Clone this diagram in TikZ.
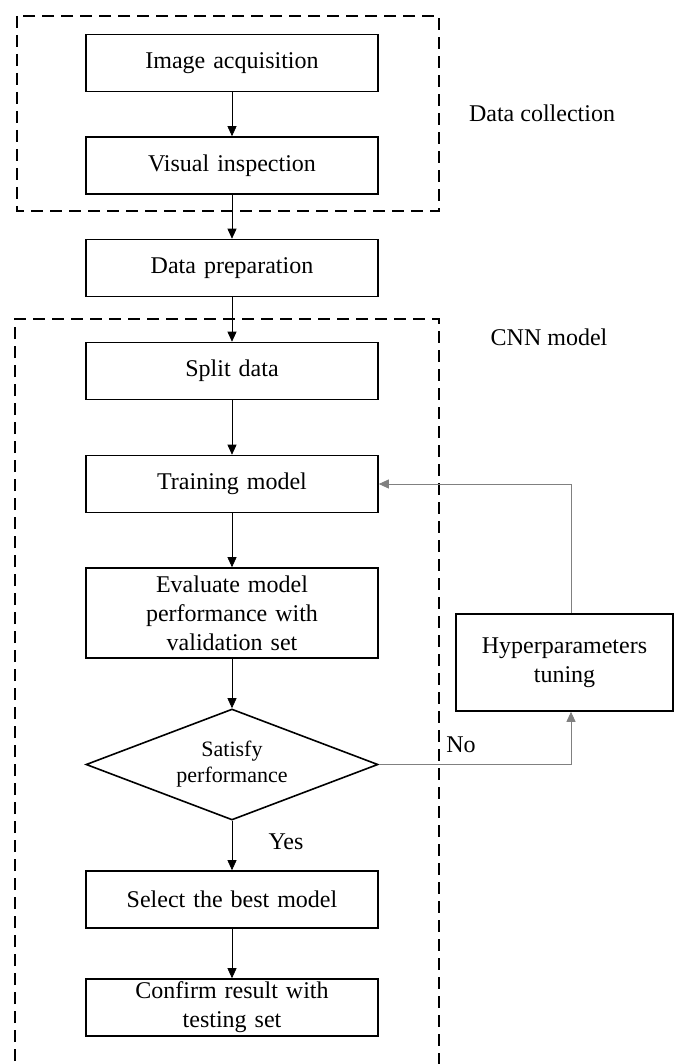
\documentclass[tikz,border=0pt]{standalone}
\usepackage{fontspec}
\setmainfont{Liberation Serif}
\usetikzlibrary{arrows.meta,shapes.geometric,positioning}

\tikzset{
  stepbox/.style={draw=black, line width=1.6pt, rectangle, minimum width=292pt,
    minimum height=57pt, inner sep=2pt, align=center, text width=280pt,
    font=\fontsize{24}{29}\selectfont},
  decision/.style={draw=black, line width=1.6pt, diamond, shape aspect=2.63,
    minimum width=292pt, minimum height=111pt, inner sep=0pt, align=center,
    font=\fontsize{22}{26}\selectfont},
  groupbox/.style={draw=black, line width=1.8pt, dash pattern=on 12pt off 7pt},
  flow/.style={draw=black, line width=0.7pt, -{Triangle[length=10pt,width=9pt]}},
  loop/.style={draw=black!50, line width=0.9pt, -{Triangle[length=10pt,width=9pt]}},
  tag/.style={font=\fontsize{24}{29}\selectfont, inner sep=0pt},
}

\begin{document}
\begin{tikzpicture}[x=1pt, y=-1pt]
\useasboundingbox (0,0) rectangle (675,1064);
\clip (0,0) rectangle (675,1064);

% group frames
\draw[groupbox] (17,16) rectangle (439,211);
\draw[groupbox] (15,1080) -- (15,319) -- (439,319) -- (439,1080);
\node[tag] (lblcollect) at (542,113) {Data collection};
\node[tag] (lblcnn) at (549,337) {CNN model};

% process steps
\node[stepbox] (acq) at (232,63) {Image acquisition};
\node[stepbox] (vis) at (232,165.5) {Visual inspection};
\node[stepbox] (prep) at (232,268) {Data preparation};
\node[stepbox] (split) at (232,371) {Split data};
\node[stepbox] (train) at (232,484) {Training model};
\node[stepbox, minimum height=90pt] (eval) at (232,613) {Evaluate model\\performance with\\validation set};
\node[decision] (sat) at (232,764.5) {Satisfy\\performance};
\node[stepbox] (best) at (232,899.5) {Select the best model};
\node[stepbox] (conf) at (232,1007.5) {Confirm result with\\testing set};
\node[stepbox, minimum width=217pt, minimum height=97pt, text width=205pt] (hyper) at (564.5,662.5) {Hyperparameters\\tuning};

% main flow
\draw[flow] (acq) -- (vis);
\draw[flow] (vis) -- (prep);
\draw[flow] (prep) -- (split);
\draw[flow] (split) -- (train);
\draw[flow] (train) -- (eval);
\draw[flow] (eval) -- (sat);
\draw[flow] (sat) -- (best);
\draw[flow] (best) -- (conf);
\node[tag] (yes) at (286,842) {Yes};

% tuning loop
\coordinate (noturn) at (571,764.5);
\coordinate (backturn) at (571,484);
\draw[loop] (sat.east) -- (noturn) -- (noturn |- hyper.south);
\draw[loop] (noturn |- hyper.north) -- (backturn) -- (train.east);
\node[tag] (no) at (461,745) {No};
\end{tikzpicture}
\end{document}
